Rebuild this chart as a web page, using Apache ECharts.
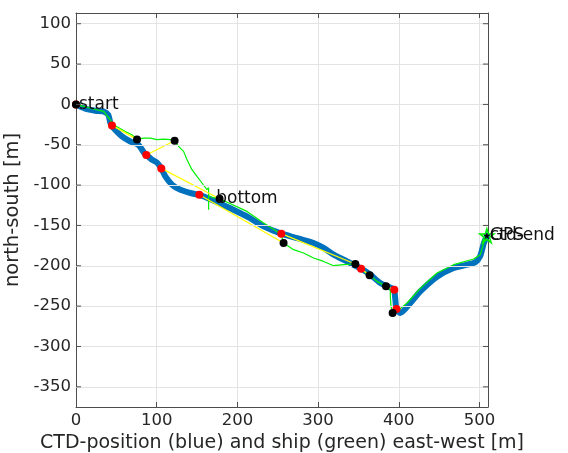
<!DOCTYPE html>
<html>
<head>
<meta charset="utf-8">
<script src="https://cdn.jsdelivr.net/npm/echarts@6/dist/echarts.min.js"></script>
<style>
html,body{margin:0;padding:0;background:#fff;}
#c{width:568px;height:453px;}
</style>
</head>
<body>
<div id="c"></div>
<script>
// CTD track (blue)
const ctdX = [0, 11.5, 23.9, 33.8, 40.0, 42.5, 44.6, 46.2, 57.0, 67.3, 77.2, 81.8, 85.9, 87.1, 94.2, 100.4, 105.7, 110.7, 119.0, 129.3, 145.4, 152.8, 162.3, 178.8, 195.0, 211.9, 232.5, 254.4, 273.9, 294.4, 306.8, 319.2, 335.8, 353.2, 364.7, 377.1, 393.6, 394.4, 395.7, 397.1, 401.9, 414.3, 426.6, 447.3, 467.9, 484.5, 494.8, 501.0, 505.1, 509.1];
const ctdY = [0, -5.3, -7.8, -8.7, -12.8, -22.7, -26.0, -28.9, -39.7, -45.9, -49.9, -56.1, -62.3, -62.7, -68.5, -72.2, -79.3, -89.2, -99.5, -105.7, -110.7, -112.0, -115.6, -123.1, -130.5, -138.8, -151.2, -160.2, -165.6, -171.8, -177.9, -186.2, -194.6, -203.6, -211.0, -221.3, -228.8, -229.6, -242.0, -253.5, -258.5, -246.1, -231.7, -213.5, -202.7, -198.6, -195.5, -187.5, -172.6, -162.7];
// Ship track (green)
const shipX = [0, 21.8, 34.2, 42.5, 46.6, 63.2, 69.4, 75.6, 83.8, 92.1, 100.4, 108.6, 116.9, 122.2, 127.1, 133.3, 137.6, 143.7, 149.9, 156.1, 162.3, 164.3, 164.3, 164.3, 170.1, 177.9, 211.9, 232.5, 249.1, 254.4, 257.2, 269.6, 282.0, 294.4, 306.8, 319.2, 331.6, 346.1, 354.4, 363.8, 373.0, 384.1, 389.5, 389.5, 390.3, 392.3, 397.8, 410.2, 426.6, 447.3, 467.9, 492.7, 501.0, 505.1, 509.1];
const shipY = [0, -5.7, -8.7, -19.0, -25.2, -34.7, -37.5, -43.4, -41.7, -41.7, -43.7, -42.9, -43.7, -45.0, -52.0, -58.2, -68.5, -80.9, -89.2, -97.4, -105.7, -103.2, -130.5, -113.1, -115.6, -116.9, -132.6, -147.0, -157.4, -161.5, -171.7, -180.0, -184.1, -190.3, -194.6, -199.9, -198.6, -197.8, -205.7, -211.7, -219.3, -225.5, -229.6, -237.9, -250.3, -258.5, -256.5, -246.1, -228.0, -208.9, -198.6, -191.6, -186.2, -171.7, -162.7];
// CTD positions at sample times (red) and ship positions at same times (black)
const redX = [0, 44.6, 87.1, 105.7, 152.8, 254.4, 353.2, 394.4, 397.1];
const redY = [0, -26.0, -62.7, -79.3, -112.0, -160.2, -203.6, -229.6, -253.5];
const blackX = [0, 75.6, 122.2, 177.9, 257.2, 346.1, 363.8, 384.1, 392.3];
const blackY = [0, -43.4, -45.0, -116.9, -171.7, -197.8, -211.7, -225.5, -258.5];
// end point (GPS / ctd-end)
const endX = [509.1];
const endY = [-162.7];
// text annotations
const noteText = ['start', 'bottom', 'GPS', 'ctd-end'];
const noteX = [0, 170, 509.1, 509.1];
const noteY = [0, -116.9, -162.7, -162.7];
// ticks
const xTicks = [0, 100, 200, 300, 400, 500];
const yTicks = [100, 50, 0, -50, -100, -150, -200, -250, -300, -350];

const zip = (a, b) => a.map((v, i) => [v, b[i]]);
const STAR = 'path://M50,0 L61.8,35.4 L100,35.4 L69.1,57.3 L80.9,92.7 L50,70.8 L19.1,92.7 L30.9,57.3 L0,35.4 L38.2,35.4 Z';
const FONT = 'DejaVu Sans';
const TXT = '#262626';

const series = [];
series.push({type: 'line', data: zip(ctdX, ctdY), showSymbol: false, smooth: 0.25,
  lineStyle: {color: '#0072BD', width: 6, cap: 'round', join: 'round'}, z: 2, silent: true});
series.push({type: 'line', data: zip(shipX, shipY), showSymbol: false,
  lineStyle: {color: '#00F000', width: 1.2}, z: 3, silent: true});
for (let i = 0; i < redX.length; i++) {
  series.push({type: 'line', data: [[redX[i], redY[i]], [blackX[i], blackY[i]]], showSymbol: false,
    lineStyle: {color: '#FFFF00', width: 1.3}, z: 4, silent: true});
}
series.push({type: 'scatter', data: zip(redX, redY), symbol: 'circle', symbolSize: 8,
  itemStyle: {color: '#FF0000', opacity: 1}, z: 5, silent: true});
series.push({type: 'scatter', data: zip(blackX, blackY), symbol: 'circle', symbolSize: 8,
  itemStyle: {color: '#000000', opacity: 1}, z: 6, silent: true});
series.push({type: 'scatter', data: zip(endX, endY), symbol: STAR, symbolSize: 14,
  itemStyle: {color: 'rgba(0,0,0,0)', borderColor: '#00F000', borderWidth: 1.5, opacity: 1}, z: 7, silent: true});
series.push({type: 'scatter', data: zip(endX, endY), symbol: STAR, symbolSize: 7,
  itemStyle: {color: '#000', opacity: 1}, z: 7, silent: true});
series.push({type: 'scatter', data: noteText.map((t, i) => ({value: [noteX[i], noteY[i]], name: t})),
  symbolSize: 0, z: 8, silent: true, itemStyle: {opacity: 1},
  label: {show: true, position: 'right', distance: 3, formatter: p => p.name,
    fontFamily: FONT, fontSize: 17, color: '#111'}});

const axisCommon = {
  axisLine: {show: true, onZero: false, lineStyle: {color: '#4d4d4d', width: 1}},
  axisTick: {show: true, inside: true, length: 5, lineStyle: {color: '#4d4d4d'}},
};

const option = {
  animation: false,
  backgroundColor: '#fff',
  grid: {left: 76, top: 13, width: 412, height: 394, show: false, containLabel: false, outerBoundsMode: 'none'},
  xAxis: [
    Object.assign({type: 'value', min: 0, max: 510.5, interval: 100, position: 'bottom',
      name: 'CTD-position (blue) and ship (green) east-west [m]', nameLocation: 'middle', nameGap: 25,
      nameTextStyle: {fontFamily: FONT, fontSize: 19, color: TXT},
      axisLabel: {fontFamily: FONT, fontSize: 16.5, color: TXT, margin: 5,
        formatter: v => xTicks.includes(v) ? String(v) : ''},
      splitLine: {show: true, lineStyle: {color: '#e3e3e3', width: 1}}}, axisCommon),
    Object.assign({type: 'value', min: 0, max: 510.5, interval: 100, position: 'top',
      axisLabel: {show: false}, splitLine: {show: false}}, axisCommon)
  ],
  yAxis: [
    Object.assign({type: 'value', min: -375, max: 113.3, interval: 25, position: 'left',
      name: 'north-south [m]', nameLocation: 'middle', nameGap: 45,
      nameTextStyle: {fontFamily: FONT, fontSize: 19.5, color: TXT},
      axisLabel: {fontFamily: FONT, fontSize: 16.5, color: TXT, margin: 5,
        formatter: v => yTicks.includes(v) ? String(v) : ''},
      splitLine: {show: false}}, axisCommon, {axisTick: {show: false}}),
    Object.assign({type: 'value', min: -375, max: 113.3, interval: 25, position: 'right',
      axisLabel: {show: false}, splitLine: {show: false}}, axisCommon, {axisTick: {show: false}})
  ],
  series: series
};
// y grid lines at the labelled values
series.push({type: 'line', data: [], silent: true,
  markLine: {symbol: 'none', silent: true, label: {show: false}, animation: false,
    lineStyle: {color: '#e3e3e3', width: 1, type: 'solid'},
    data: yTicks.map(v => ({yAxis: v}))}, z: 1});
const chart = echarts.init(document.getElementById('c'), null, {renderer: 'canvas'});
chart.setOption(option);
// inward ticks on left and right spines at labelled y values
const g = [];
yTicks.forEach(v => {
  const p = chart.convertToPixel({xAxisIndex: 0, yAxisIndex: 0}, [0, v]);
  const q = chart.convertToPixel({xAxisIndex: 0, yAxisIndex: 0}, [510.5, v]);
  g.push({type: 'line', shape: {x1: p[0], y1: p[1], x2: p[0] + 5, y2: p[1]}, style: {stroke: '#4d4d4d', lineWidth: 1}, z: 100});
  g.push({type: 'line', shape: {x1: q[0], y1: q[1], x2: q[0] - 5, y2: q[1]}, style: {stroke: '#4d4d4d', lineWidth: 1}, z: 100});
});
chart.setOption({graphic: g});
</script>
</body>
</html>
